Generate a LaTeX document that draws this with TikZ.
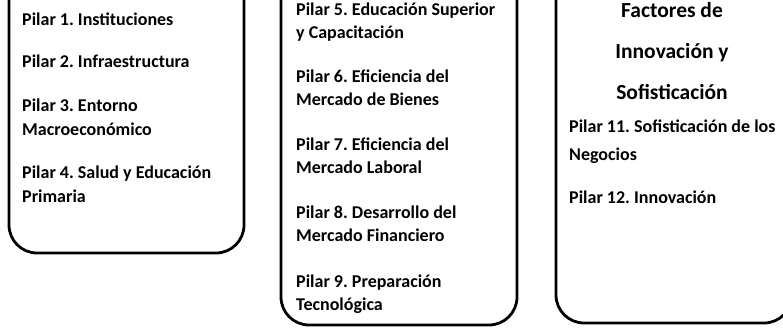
\documentclass[tikz,border=0pt]{standalone}
\usepackage{fontspec}
\setmainfont{Carlito}
\frenchspacing

\begin{document}
\begin{tikzpicture}[x=1pt, y=-1pt,
    pillarbox/.style={line width=2.8pt, rounded corners=28pt},
    pillar/.style={anchor=base west, inner sep=0pt, align=left,
        font=\bfseries\fontsize{18}{23.5}\selectfont},
    heading/.style={anchor=base, inner sep=0pt, align=center,
        font=\bfseries\fontsize{21.5}{41}\selectfont}]
\useasboundingbox (0,0) rectangle (783,327);

% the three boxes, open at the top
\draw[pillarbox] (9,-60) -- (9,253) -- (244,253) -- (244,-60);
\draw[pillarbox] (281,-60) -- (281,325) -- (517,325) -- (517,-60);
\draw[pillarbox] (556,-60) -- (556,323) -- (792,323) -- (792,-60);

% left box (nodes sit on the baseline of their last line)
\node[pillar] (p1) at (22,25) {Pilar 1. Instituciones};
\node[pillar] (p2) at (22,67) {Pilar 2. Infraestructura};
\node[pillar] (p3) at (22,135) {Pilar 3. Entorno\\Macroeconómico};
\node[pillar] (p4) at (22,202) {Pilar 4. Salud y Educación\\Primaria};

% middle box
\node[pillar] (p5) at (296,38.5) {Pilar 5. Educación Superior\\y Capacitación};
\node[pillar] (p6) at (296,105.5) {Pilar 6. Eficiencia del\\Mercado de Bienes};
\node[pillar] (p7) at (296,173.5) {Pilar 7. Eficiencia del\\Mercado Laboral};
\node[pillar] (p8) at (296,241.5) {Pilar 8. Desarrollo del\\Mercado Financiero};
\node[pillar] (p9) at (296,310.5) {Pilar 9. Preparación\\Tecnológica};

% right box
\node[heading] (factores) at (672,99) {Factores de\\Innovación y\\Sofisticación};
\node[pillar] (p11) at (569,160) {Pilar 11. Sofisticación de los\\[4pt]Negocios};
\node[pillar] (p12) at (569,203) {Pilar 12. Innovación};

\end{tikzpicture}
\end{document}
